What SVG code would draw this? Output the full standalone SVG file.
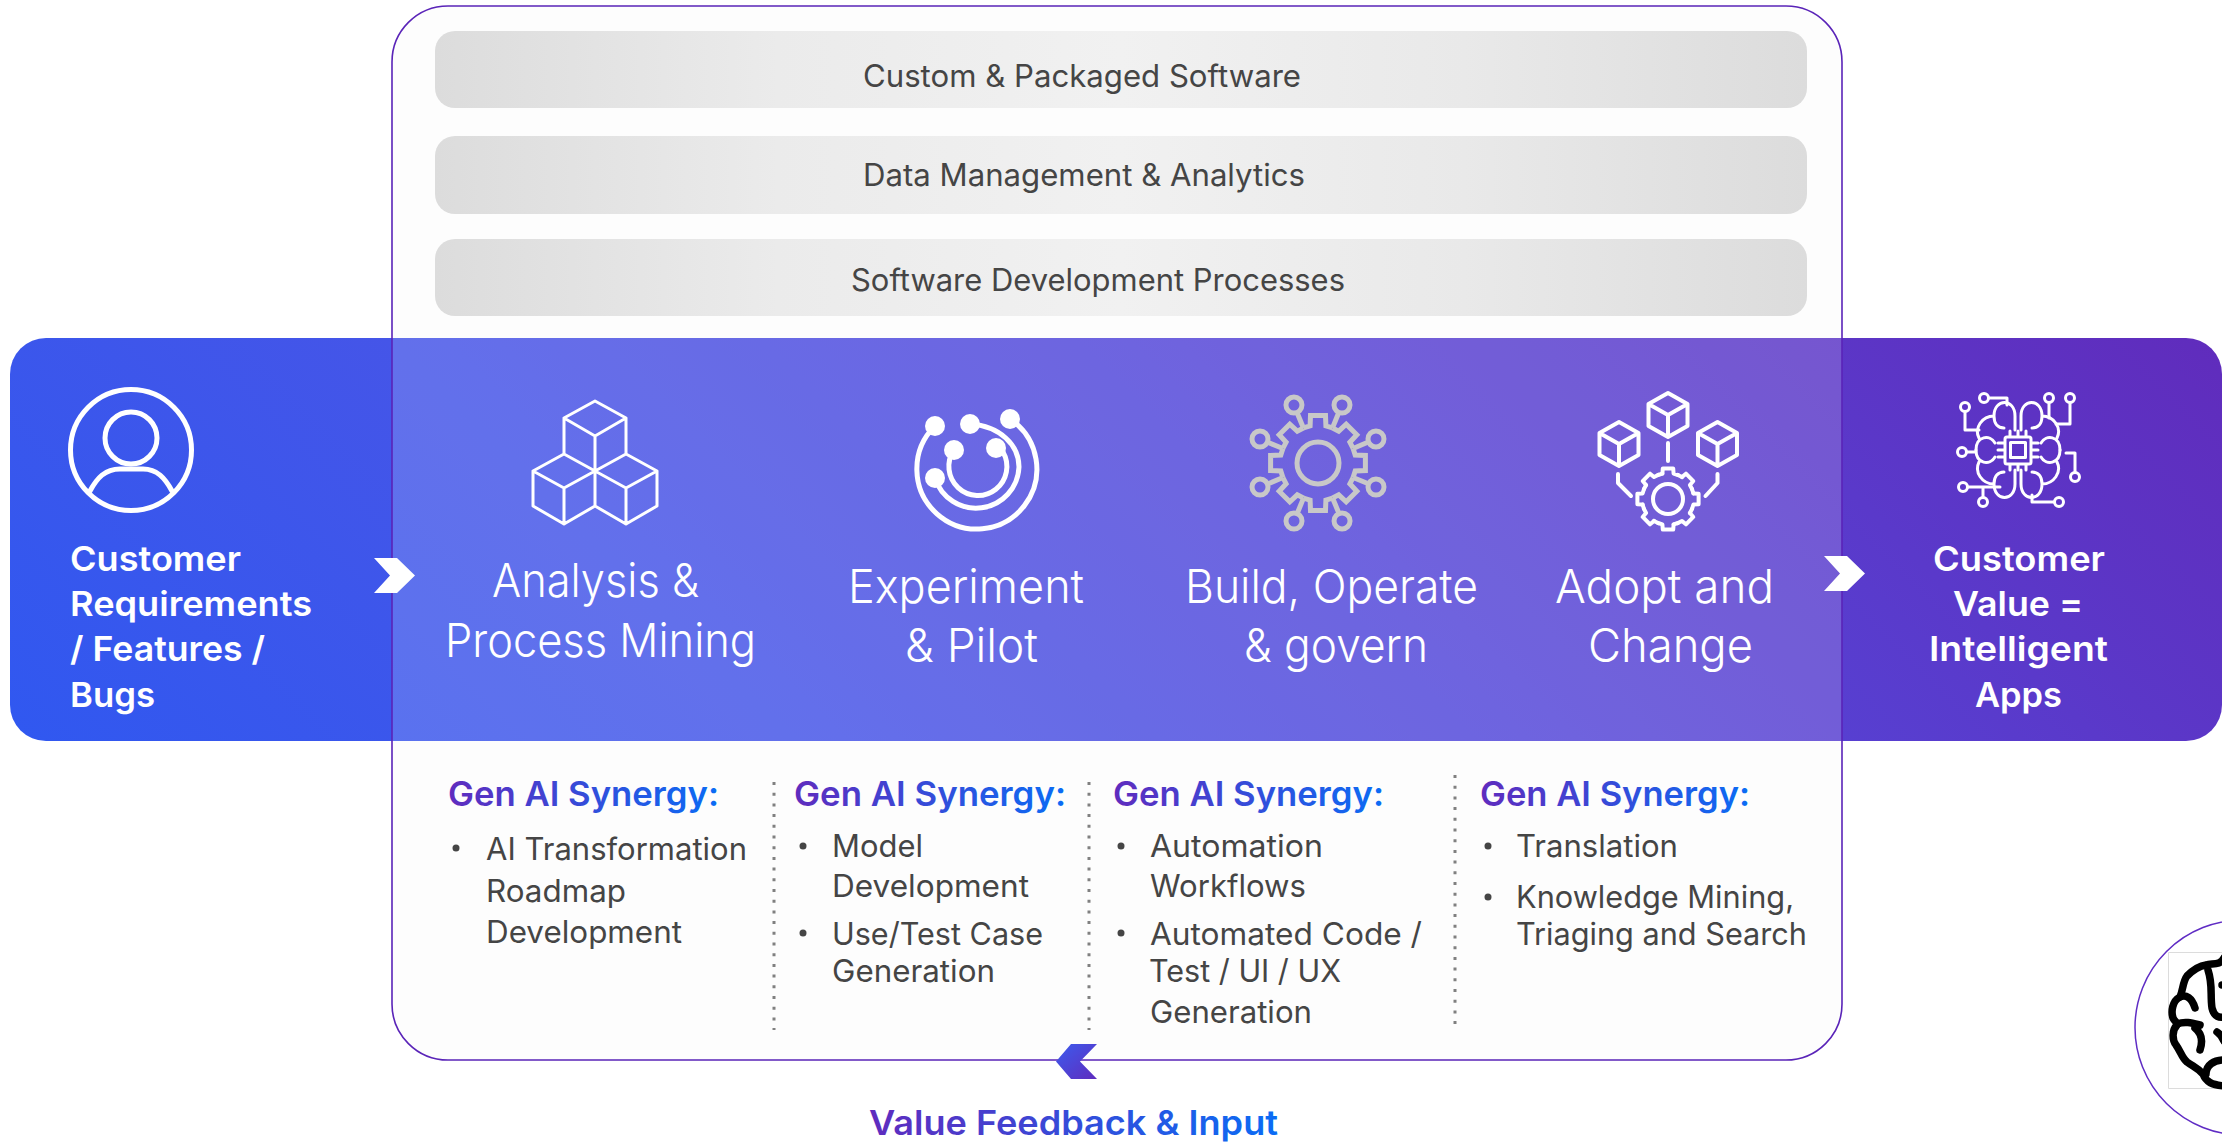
<svg xmlns="http://www.w3.org/2000/svg" xmlns:xlink="http://www.w3.org/1999/xlink" width="2222" height="1142" viewBox="0 0 2222 1142">
<defs>
<linearGradient id="band" gradientUnits="userSpaceOnUse" x1="463" y1="1193" x2="1769" y2="-113"><stop offset="0" stop-color="#3058f0"/><stop offset=".3" stop-color="#4555e8"/><stop offset=".6" stop-color="#5446d8"/><stop offset="1" stop-color="#602cbc"/></linearGradient>
<linearGradient id="pill" x1="0" y1="0" x2="1" y2="0"><stop offset="0" stop-color="#dcdcdc"/><stop offset=".25" stop-color="#ebebeb"/><stop offset=".5" stop-color="#f1f1f1"/><stop offset=".75" stop-color="#e9e9e9"/><stop offset="1" stop-color="#dcdcdc"/></linearGradient>
<linearGradient id="hd" x1="0" y1="0" x2="1" y2="0"><stop offset="0" stop-color="#5f2cbe"/><stop offset="1" stop-color="#0a6cf5"/></linearGradient>
<linearGradient id="chev" x1="0" y1="0" x2="1" y2="1"><stop offset="0" stop-color="#3c5cee"/><stop offset="1" stop-color="#5f2cbe"/></linearGradient>
<path id="tooth" d="M-14.5-35.1L-7.9-37.2L-7.5-47.4H7.5L7.9-37.2L14.5-35.1"/>
<g id="arm"><path d="M14.5-35.1L21-51"/><circle cx="24" cy="-58" r="8"/></g>
<g id="t8"><use href="#tooth"/><use href="#arm"/></g>
<path id="tooth2" d="M-5.6-25.4L-5.2-30.6H5.2L5.6-25.4L10-24"/>
<path id="tooth3" d="M-10-24L-5.6-25.4"/>
<g id="cube"><path d="M0-22L19.5-11V11L0 22L-19.5 11V-11ZM-19.5-11L0 0L19.5-11M0 0V22"/></g>
<path id="lobe" d="M-3-20V-34C-3-52-24-52-24-34C-24-26-20-22-14-22M-24-34C-36-34-44-22-39-12M-23-7C-28-16-42-14-42 0"/>
<style>
text{font-family:Inter,"Liberation Sans",sans-serif}
.ti{font-size:47px;font-weight:300;fill:#fff}
.si{font-size:34px;font-weight:600;fill:#fff}
.pt{font-size:31px;font-weight:400;fill:#454545}
.gh{font-size:34px;font-weight:600;fill:url(#hd)}
.bt{font-size:31px;font-weight:400;fill:#454545}
.ic{fill:none;stroke:#fff;stroke-width:4;stroke-linejoin:round;stroke-linecap:round}
.th{stroke-width:3}
.gr{fill:none;stroke:#c8c8c8;stroke-width:5;stroke-linejoin:miter}
.dv{fill:none;stroke:#808080;stroke-width:3;stroke-dasharray:3 7.7}
.bl{fill:#454545}
</style>
</defs>
<rect width="2222" height="1142" fill="#fff"/>
<rect x="392" y="6" width="1450" height="1054" rx="56" fill="#fdfdfd"/>
<g id="band-node"><rect x="10" y="338" width="2212" height="403" rx="36" fill="url(#band)"/></g>
<g id="frame"><rect x="392" y="6" width="1450" height="1054" rx="56" fill="#fff" fill-opacity=".16" stroke="#5a24b8" stroke-width="1.6"/></g>

<g id="layer-custom"><rect x="435" y="31" width="1372" height="77" rx="20" fill="url(#pill)"/><text class="pt" x="863" y="87" textLength="438" lengthAdjust="spacingAndGlyphs">Custom &amp; Packaged Software</text></g>
<g id="layer-data"><rect x="435" y="136" width="1372" height="78" rx="20" fill="url(#pill)"/><text class="pt" x="863" y="186" textLength="442" lengthAdjust="spacingAndGlyphs">Data Management &amp; Analytics</text></g>
<g id="layer-sdp"><rect x="435" y="239" width="1372" height="77" rx="20" fill="url(#pill)"/><text class="pt" x="851" y="291" textLength="494" lengthAdjust="spacingAndGlyphs">Software Development Processes</text></g>

<g id="node-customer">
<g class="ic" style="stroke-width:5"><circle cx="131" cy="450" r="60.5"/><circle cx="131" cy="438" r="26"/><path d="M90 491C97 478 105 469 120 469H143C157 469 165 478 172 491"/></g>
<text class="si" x="70" y="571" textLength="171" lengthAdjust="spacingAndGlyphs">Customer</text>
<text class="si" x="70" y="616" textLength="242" lengthAdjust="spacingAndGlyphs">Requirements</text>
<text class="si" x="70" y="661" textLength="195" lengthAdjust="spacingAndGlyphs">/ Features /</text>
<text class="si" x="70" y="707" textLength="85" lengthAdjust="spacingAndGlyphs">Bugs</text>
</g>

<g id="node-analysis">
<path class="ic" style="stroke-width:3" d="M595 401L564 418L595 436L626 418ZM564 418V454M626 418V454M595 436V506M564 454L533 471L564 488L595 471ZM626 454L595 471L626 488L657 471ZM533 471V506L564 524L595 506L626 524L657 506V471M564 488V524M626 488V524"/>
<text class="ti" x="492" y="597" textLength="207" lengthAdjust="spacingAndGlyphs">Analysis &amp;</text>
<text class="ti" x="445" y="657" textLength="311" lengthAdjust="spacingAndGlyphs">Process Mining</text>
</g>

<g id="node-experiment">
<g class="ic" style="stroke-width:5"><path d="M935 426A60 60 0 1 0 1010 419"/><path d="M935 478A43 43 0 0 0 1019 467C1019 445 1000 426 970 424"/><path d="M954 450A29 29 0 1 0 1003 452C1003 450 1000 449 996 448"/></g>
<g fill="#fff"><circle cx="935" cy="426" r="10"/><circle cx="970" cy="424" r="10"/><circle cx="1010" cy="419" r="10"/><circle cx="954" cy="450" r="10"/><circle cx="996" cy="448" r="10"/><circle cx="935" cy="478" r="10"/></g>
<text class="ti" x="848" y="603" textLength="236" lengthAdjust="spacingAndGlyphs">Experiment</text>
<text class="ti" x="905" y="662" textLength="133" lengthAdjust="spacingAndGlyphs">&amp; Pilot</text>
</g>

<g id="node-build">
<g class="gr" transform="translate(1318 463)"><circle r="21"/>
<use href="#t8"/><use href="#t8" transform="rotate(45)"/><use href="#t8" transform="rotate(90)"/><use href="#t8" transform="rotate(135)"/><use href="#t8" transform="rotate(180)"/><use href="#t8" transform="rotate(225)"/><use href="#t8" transform="rotate(270)"/><use href="#t8" transform="rotate(315)"/></g>
<text class="ti" x="1185" y="603" textLength="293" lengthAdjust="spacingAndGlyphs">Build, Operate</text>
<text class="ti" x="1244" y="662" textLength="184" lengthAdjust="spacingAndGlyphs">&amp; govern</text>
</g>

<g id="node-adopt">
<g class="ic"><use href="#cube" x="1668" y="415"/><use href="#cube" x="1619" y="444"/><use href="#cube" x="1717.5" y="444"/>
<path d="M1668 443V461M1618 474V483L1631 496M1717.5 474V483L1705.5 496"/>
<g transform="translate(1668 499)"><circle r="15"/><use href="#tooth2"/><use href="#tooth3"/><use href="#tooth2" transform="rotate(45)"/><use href="#tooth3" transform="rotate(45)"/><use href="#tooth2" transform="rotate(90)"/><use href="#tooth3" transform="rotate(90)"/><use href="#tooth2" transform="rotate(135)"/><use href="#tooth3" transform="rotate(135)"/><use href="#tooth2" transform="rotate(180)"/><use href="#tooth3" transform="rotate(180)"/><use href="#tooth2" transform="rotate(225)"/><use href="#tooth3" transform="rotate(225)"/><use href="#tooth2" transform="rotate(270)"/><use href="#tooth3" transform="rotate(270)"/><use href="#tooth2" transform="rotate(315)"/><use href="#tooth3" transform="rotate(315)"/></g></g>
<text class="ti" x="1555" y="603" textLength="219" lengthAdjust="spacingAndGlyphs">Adopt and</text>
<text class="ti" x="1588" y="662" textLength="165" lengthAdjust="spacingAndGlyphs">Change</text>
</g>

<g id="node-value">
<g class="ic th"><g transform="translate(2018 450)"><use href="#lobe"/><use href="#lobe" transform="scale(-1 1)"/><use href="#lobe" transform="scale(1 -1)"/><use href="#lobe" transform="scale(-1 -1)"/>
<rect x="-13" y="-13" width="26" height="27" rx="2"/><rect x="-7.5" y="-7.5" width="15" height="15"/>
<path d="M-8-19V-14M0-19V-14M8-19V-14M-8 15V20M0 15V20M8 15V20M-20-7H-14M-20 0H-14M-20 7H-14M14-7H20M14 0H20M14 7H20"/></g>
<circle cx="1965" cy="407" r="4.5"/><circle cx="1984" cy="398" r="4.5"/><circle cx="2049" cy="398" r="4.5"/><circle cx="2070" cy="398" r="4.5"/><circle cx="1962" cy="452" r="4.5"/><circle cx="2075" cy="477" r="4.5"/><circle cx="1963" cy="487" r="4.5"/><circle cx="1983" cy="502" r="4.5"/><circle cx="2059" cy="502" r="4.5"/>
<path d="M1965 412V430H1979M1989 398H2007V405M2049 403V418M2070 403V424H2056M1967 452H1975M2075 472V453H2066M1968 487H2000M1983 497V487M2054 502H2032V495"/></g>
<text class="si" x="1933" y="571" textLength="172" lengthAdjust="spacingAndGlyphs">Customer</text>
<text class="si" x="1953" y="616" textLength="130" lengthAdjust="spacingAndGlyphs">Value =</text>
<text class="si" x="1929" y="661" textLength="179" lengthAdjust="spacingAndGlyphs">Intelligent</text>
<text class="si" x="1975" y="707" textLength="87" lengthAdjust="spacingAndGlyphs">Apps</text>
</g>

<g id="connectors">
<polygon fill="#fff" points="374,558 397,558 415,575.5 397,593 374,593 390,575.5"/>
<polygon fill="#fff" points="1824,556 1847,556 1865,573.5 1847,591 1824,591 1840,573.5"/>
<polygon fill="url(#chev)" points="1071,1044 1097,1044 1080,1061.5 1097,1079 1071,1079 1056,1061.5"/>
<path class="dv" d="M774 782V1030"/><path class="dv" d="M1089 782V1030"/><path class="dv" d="M1455 775V1025"/>
</g>

<g id="synergy-1">
<text class="gh" x="448" y="806" textLength="271" lengthAdjust="spacingAndGlyphs">Gen AI Synergy:</text>
<circle class="bl" cx="456" cy="848" r="3.5"/>
<text class="bt" x="486" y="860" textLength="261" lengthAdjust="spacingAndGlyphs">AI Transformation</text>
<text class="bt" x="486" y="902" textLength="140" lengthAdjust="spacingAndGlyphs">Roadmap</text>
<text class="bt" x="486" y="943" textLength="196" lengthAdjust="spacingAndGlyphs">Development</text>
</g>
<g id="synergy-2">
<text class="gh" x="794" y="806" textLength="272" lengthAdjust="spacingAndGlyphs">Gen AI Synergy:</text>
<circle class="bl" cx="803" cy="846" r="3.5"/><circle class="bl" cx="803" cy="933" r="3.5"/>
<text class="bt" x="832" y="857" textLength="91" lengthAdjust="spacingAndGlyphs">Model</text>
<text class="bt" x="832" y="897" textLength="197" lengthAdjust="spacingAndGlyphs">Development</text>
<text class="bt" x="832" y="945" textLength="211" lengthAdjust="spacingAndGlyphs">Use/Test Case</text>
<text class="bt" x="832" y="982" textLength="163" lengthAdjust="spacingAndGlyphs">Generation</text>
</g>
<g id="synergy-3">
<text class="gh" x="1113" y="806" textLength="271" lengthAdjust="spacingAndGlyphs">Gen AI Synergy:</text>
<circle class="bl" cx="1121" cy="846" r="3.5"/><circle class="bl" cx="1121" cy="933" r="3.5"/>
<text class="bt" x="1150" y="857" textLength="173" lengthAdjust="spacingAndGlyphs">Automation</text>
<text class="bt" x="1150" y="897" textLength="156" lengthAdjust="spacingAndGlyphs">Workflows</text>
<text class="bt" x="1150" y="945" textLength="272" lengthAdjust="spacingAndGlyphs">Automated Code /</text>
<text class="bt" x="1149" y="982" textLength="192" lengthAdjust="spacingAndGlyphs">Test / UI / UX</text>
<text class="bt" x="1150" y="1023" textLength="162" lengthAdjust="spacingAndGlyphs">Generation</text>
</g>
<g id="synergy-4">
<text class="gh" x="1480" y="806" textLength="270" lengthAdjust="spacingAndGlyphs">Gen AI Synergy:</text>
<circle class="bl" cx="1488" cy="846" r="3.5"/><circle class="bl" cx="1488" cy="897" r="3.5"/>
<text class="bt" x="1516" y="857" textLength="162" lengthAdjust="spacingAndGlyphs">Translation</text>
<text class="bt" x="1516" y="908" textLength="278" lengthAdjust="spacingAndGlyphs">Knowledge Mining,</text>
<text class="bt" x="1516" y="945" textLength="291" lengthAdjust="spacingAndGlyphs">Triaging and Search</text>
</g>
<g id="feedback-label"><text class="gh" x="869" y="1135" textLength="409" lengthAdjust="spacingAndGlyphs">Value Feedback &amp; Input</text></g>

<g id="brain-badge">
<circle cx="2242.5" cy="1027.5" r="107.5" fill="#fff" stroke="#5f2cc4" stroke-width="1.5"/>
<path d="M2222 952.5H2168.5V1088.5H2222" fill="none" stroke="#dcdcdc" stroke-width="1"/>
<g fill="none" stroke="#000" stroke-width="7.5" stroke-linecap="round" stroke-linejoin="round">
<path d="M2224 958C2220 966 2212 963 2206 965C2198 966 2192 971 2187 976C2183 981 2183 990 2180 997C2172 1001 2171 1012 2173 1018C2175 1022 2178 1023 2177 1025C2172 1030 2172 1040 2176 1045C2181 1052 2182 1058 2187 1062C2194 1067 2198 1068 2203 1074C2206 1082 2212 1085 2224 1086"/>
<path d="M2180 997C2186 994 2192 998 2195 1008M2177 1024C2185 1021 2192 1023 2200 1025M2195 1028C2200 1032 2204 1038 2200 1050M2208 970C2213 985 2210 995 2212 1008C2214 1016 2218 1018 2224 1017M2217 1032C2220 1034 2222 1037 2224 1041M2224 1060C2214 1060 2206 1065 2206 1074M2222 985H2224"/>
</g>
</g>
</svg>
